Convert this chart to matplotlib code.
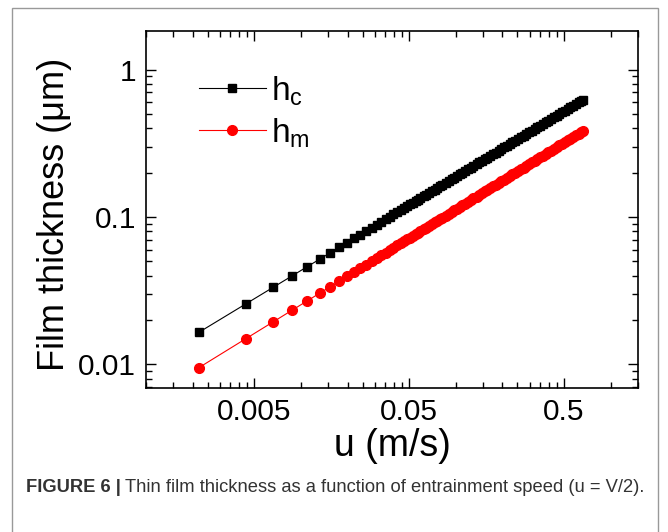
import matplotlib
matplotlib.use("Agg")
import matplotlib.pyplot as plt
from matplotlib.patches import Rectangle
from matplotlib.ticker import FixedLocator, LogLocator, NullFormatter

plt.rcParams['font.family'] = ['Liberation Sans', 'DejaVu Sans']

# entrainment speed u (m/s)
u = [0.0022, 0.0044, 0.0066, 0.0088, 0.011, 0.0132, 0.0154, 0.0176, 0.0198, 0.022,
     0.0242, 0.0264, 0.0286, 0.0308, 0.033, 0.0352, 0.0374, 0.0396, 0.0418, 0.044,
     0.0462, 0.0484, 0.0506, 0.0528,
     0.055, 0.057, 0.059, 0.062, 0.064, 0.067, 0.070, 0.073, 0.076, 0.079,
     0.082, 0.086, 0.090, 0.094, 0.098, 0.102, 0.106, 0.110, 0.115, 0.120,
     0.125, 0.130, 0.136, 0.142, 0.148, 0.154, 0.160, 0.167, 0.174, 0.181,
     0.189, 0.197, 0.205, 0.214, 0.223, 0.232, 0.242, 0.252, 0.263, 0.274,
     0.285, 0.297, 0.310, 0.323, 0.336, 0.350, 0.365, 0.380, 0.396, 0.413,
     0.430, 0.448, 0.467, 0.486, 0.506, 0.527, 0.549, 0.572, 0.596, 0.620,
     0.640, 0.658]

# central film thickness hc (um)
hc = [0.0165, 0.02566, 0.03322, 0.0399, 0.046, 0.05166, 0.05699, 0.06205, 0.06689, 0.07153,
      0.07601, 0.08034, 0.08454, 0.08863, 0.09261, 0.09649, 0.1003, 0.104, 0.1077, 0.1112,
      0.1147, 0.1182, 0.1216, 0.1249,
      0.1282, 0.1312, 0.1341, 0.1384, 0.1412, 0.1454, 0.1495, 0.1536, 0.1576, 0.1615,
      0.1654, 0.1705, 0.1755, 0.1804, 0.1852, 0.19, 0.1948, 0.1994, 0.2051, 0.2108,
      0.2163, 0.2218, 0.2283, 0.2346, 0.2409, 0.2471, 0.2532, 0.2602, 0.2671, 0.2739,
      0.2815, 0.289, 0.2965, 0.3047, 0.3128, 0.3208, 0.3295, 0.3381, 0.3474, 0.3566,
      0.3657, 0.3754, 0.3858, 0.396, 0.4061, 0.4168, 0.4281, 0.4393, 0.451, 0.4632,
      0.4752, 0.4878, 0.5009, 0.5137, 0.5271, 0.541, 0.5552, 0.57, 0.5851, 0.6,
      0.6122, 0.6232]

# minimum film thickness hm (um)
hm = [0.0095, 0.01489, 0.01936, 0.02333, 0.02696, 0.03034, 0.03352, 0.03655, 0.03945, 0.04224,
      0.04493, 0.04754, 0.05007, 0.05253, 0.05493, 0.05728, 0.05957, 0.06182, 0.06403, 0.06619,
      0.06832, 0.07041, 0.07246, 0.07449,
      0.07649, 0.07828, 0.08005, 0.08266, 0.08438, 0.08692, 0.08943, 0.09189, 0.09432, 0.09671,
      0.09908, 0.1022, 0.1052, 0.1083, 0.1112, 0.1141, 0.117, 0.1199, 0.1234, 0.1268,
      0.1302, 0.1336, 0.1375, 0.1414, 0.1453, 0.1491, 0.1528, 0.1571, 0.1613, 0.1655,
      0.1702, 0.1748, 0.1794, 0.1845, 0.1895, 0.1944, 0.1998, 0.2051, 0.2109, 0.2165,
      0.2221, 0.2281, 0.2346, 0.2409, 0.2471, 0.2538, 0.2608, 0.2676, 0.2749, 0.2825,
      0.29, 0.2978, 0.3059, 0.3139, 0.3222, 0.3308, 0.3397, 0.3489, 0.3583, 0.3676,
      0.3752, 0.382]

fig = plt.figure(figsize=(6.68, 5.32), dpi=100)
ax = fig.add_axes([146/668, 1-388/532, 492/668, 357/532])

ax.plot(u, hc, color='black', lw=0.8, marker='s', ms=6.2, mec='black', mfc='black', label=r'h$_\mathregular{c}$')
ax.plot(u, hm, color='#ff0000', lw=0.8, marker='o', ms=7, mec='#ff0000', mfc='#ff0000', label=r'h$_\mathregular{m}$')

ax.set_xscale('log')
ax.set_yscale('log')
ax.set_xlim(0.001, 1.5)
ax.set_ylim(0.0069, 1.83)

# Origin style ticks: major at 5*10^n, minor at multiples of the decade below
ax.xaxis.set_major_locator(FixedLocator([0.005, 0.05, 0.5]))
ax.xaxis.set_minor_locator(FixedLocator([k * d for d in (0.0005, 0.005, 0.05, 0.5) for k in range(2, 10)]))
ax.xaxis.set_minor_formatter(NullFormatter())
ax.set_xticklabels(['0.005', '0.05', '0.5'])
ax.yaxis.set_major_locator(FixedLocator([0.01, 0.1, 1]))
ax.yaxis.set_minor_locator(LogLocator(base=10, subs=range(2, 10)))
ax.yaxis.set_minor_formatter(NullFormatter())
ax.set_yticklabels(['0.01', '0.1', '1'])

ax.tick_params(which='both', direction='in', top=True, right=True, width=1, labelsize=21.5, colors='black')
ax.tick_params(which='major', length=7, pad=7)
ax.tick_params(which='minor', length=4)
for s in ax.spines.values():
    s.set_linewidth(1.2)

ax.set_xlabel('u (m/s)', fontsize=27, labelpad=2)
ax.set_ylabel('Film thickness (\u03bcm)', fontsize=26)
ax.yaxis.set_label_coords(-0.15, 0.485)

ax.legend(loc='upper left', bbox_to_anchor=(0.108, 0.88), frameon=False, fontsize=24,
          handlelength=2.0, handletextpad=0.15, labelspacing=0.25, borderpad=0, borderaxespad=0)

# outer frame and caption
fig.patches.append(Rectangle((12/668, -0.1), 646/668, 1.1 - 8/532, transform=fig.transFigure,
                             fill=False, edgecolor='#999999', lw=1))
t1 = fig.text(26/668, 1-488/532, 'FIGURE 6 |', fontsize=13.2, fontweight='bold', color='#333333', va='center')
fig.canvas.draw()
bb = t1.get_window_extent().transformed(fig.transFigure.inverted())
fig.text(bb.x1 + 0.006, 1-488/532, 'Thin film thickness as a function of entrainment speed (u = V/2).',
         fontsize=13.2, color='#333333', va='center')

fig.savefig('out.png', dpi=100)
